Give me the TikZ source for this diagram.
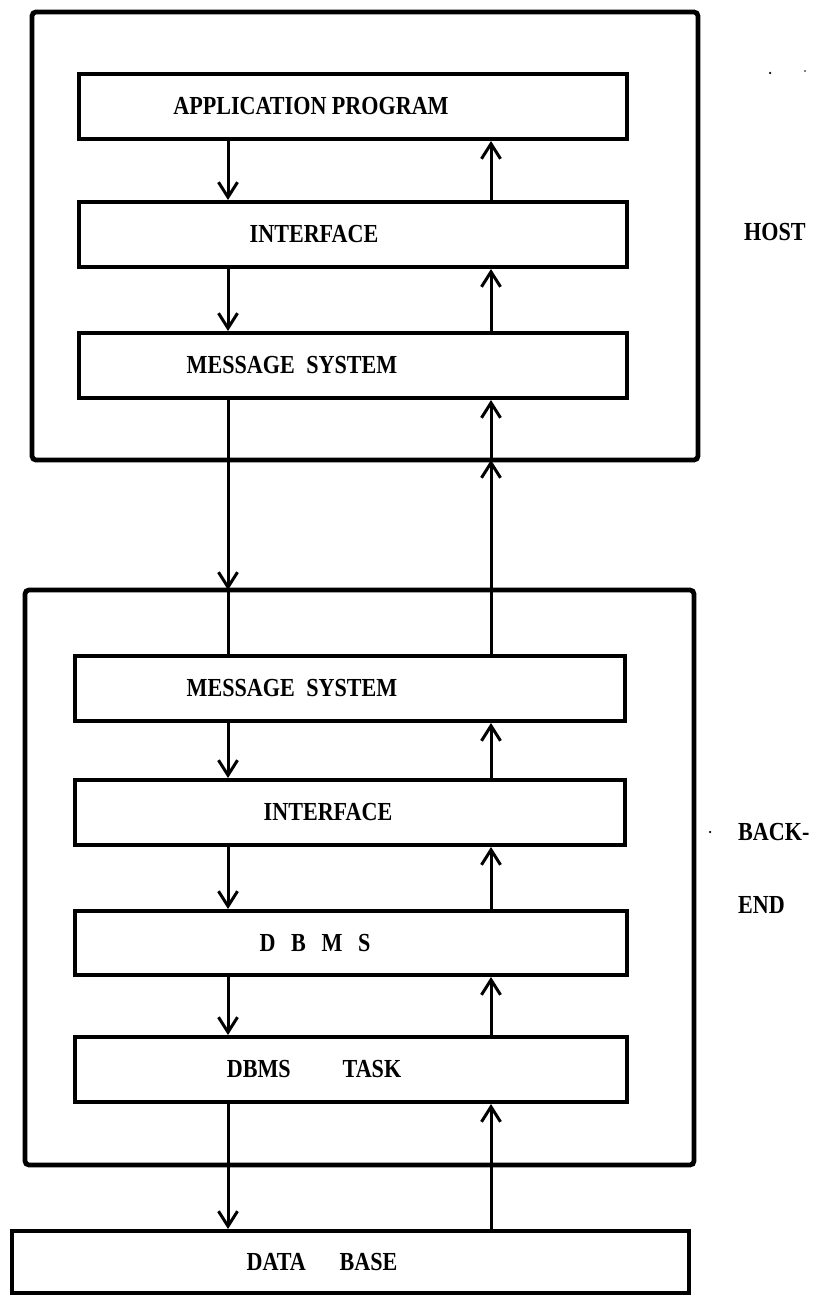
\documentclass[tikz,border=0pt]{standalone}
\usepackage{fontspec}
\newfontfamily\lblfont[FakeStretch=0.85]{Liberation Serif}
\usetikzlibrary{arrows.meta}
\begin{document}
\begin{tikzpicture}[x=1pt,y=-1pt,
  outerbox/.style={draw,line width=4.8pt,rounded corners=4pt},
  blk/.style={draw,line width=4pt,rectangle,inner sep=0pt,minimum width=#1,minimum height=65pt},
  blk/.default=548pt,
  txt/.style={font=\lblfont\bfseries\fontsize{26}{30}\selectfont,inner sep=0pt},
  side/.style={font=\lblfont\bfseries\fontsize{26}{30}\selectfont,inner sep=0pt,anchor=west},
  flow/.style={line width=3pt,-{Straight Barb[length=15pt,width=19pt,line width=3pt]}},
  plain/.style={line width=3pt},
  speck/.style={fill,circle,inner sep=0pt,minimum size=2.5pt}
]
\useasboundingbox (0,0) rectangle (823,1305);
% outer boxes
\draw[outerbox] (32,12) rectangle (698,460);
\draw[outerbox] (25,590) rectangle (694,1165);
\coordinate (hbot) at (0,460);
\coordinate (btop) at (0,590);
% blocks
\node[blk] (app) at (353,106.5) {};
\node[blk] (hif) at (353,234.5) {};
\node[blk] (hms) at (353,365.5) {};
\node[blk=550pt] (bms) at (350,688.5) {};
\node[blk=550pt] (bif) at (350,812.5) {};
\node[blk=552pt,minimum height=64pt] (dbms) at (351,943) {};
\node[blk=552pt] (task) at (351,1069.5) {};
\node[blk=677pt,minimum height=62pt] (db) at (350.5,1262) {};
% texts
\node[txt] (tapp) at (311,106.5) {APPLICATION PROGRAM};
\node[txt] (thif) at (314,234.5) {INTERFACE};
\node[txt] (thms) at (292,365.5) {MESSAGE\hspace{0.45em}SYSTEM};
\node[txt] (tbms) at (292,688.5) {MESSAGE\hspace{0.45em}SYSTEM};
\node[txt] (tbif) at (328,812.5) {INTERFACE};
\node[txt] (tdbms) at (315,943) {D\hspace{0.6em}B\hspace{0.6em}M\hspace{0.6em}S};
\node[txt] (ttask) at (314,1069.5) {DBMS\hspace{2em}TASK};
\node[txt] (tdb) at (322,1262) {DATA\hspace{1.3em}BASE};
\node[side] (host) at (744,232) {HOST};
\node[side] (back) at (738,832) {BACK-};
\node[side] (endl) at (738,905) {END};
% specks
\node[speck] (s1) at (770,73) {};
\node[speck,minimum size=1.8pt] (s2) at (805,71) {};
\node[speck] (s3) at (710,832) {};
% arrow columns
\coordinate (dx) at (228,0);
\coordinate (ux) at (491,0);
% down flow
\draw[flow] (app.south -| dx) -- (hif.north -| dx);
\draw[flow] (hif.south -| dx) -- (hms.north -| dx);
\draw[flow] (hms.south -| dx) -- (btop -| dx);
\draw[plain] (btop -| dx) -- (bms.north -| dx);
\draw[flow] (bms.south -| dx) -- (bif.north -| dx);
\draw[flow] (bif.south -| dx) -- (dbms.north -| dx);
\draw[flow] (dbms.south -| dx) -- (task.north -| dx);
\draw[flow] (task.south -| dx) -- (db.north -| dx);
% up flow
\draw[flow] (hif.north -| ux) -- (app.south -| ux);
\draw[flow] (hms.north -| ux) -- (hif.south -| ux);
\draw[flow] (hbot -| ux) -- (hms.south -| ux);
\draw[flow] (bms.north -| ux) -- (hbot -| ux);
\draw[flow] (bif.north -| ux) -- (bms.south -| ux);
\draw[flow] (dbms.north -| ux) -- (bif.south -| ux);
\draw[flow] (task.north -| ux) -- (dbms.south -| ux);
\draw[flow] (db.north -| ux) -- (task.south -| ux);
\end{tikzpicture}
\end{document}
